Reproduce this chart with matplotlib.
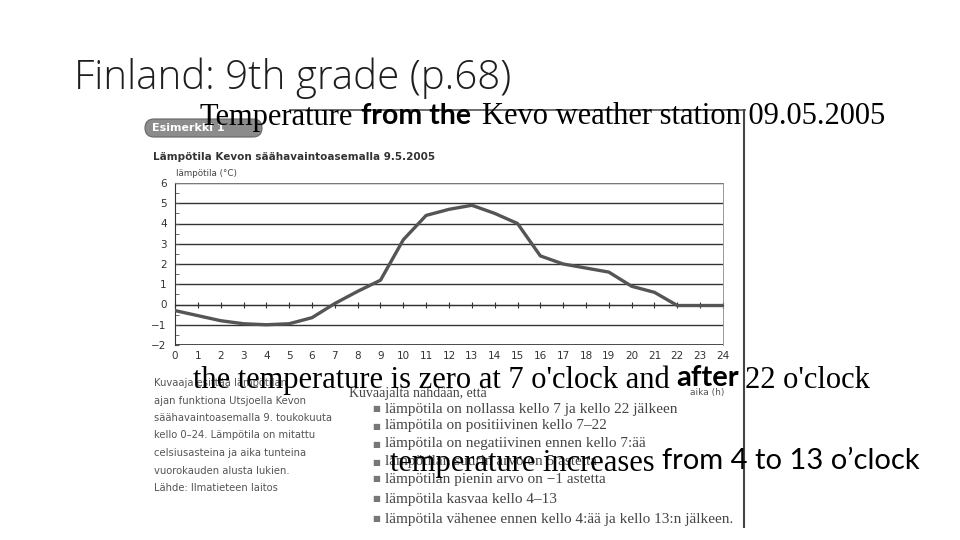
import matplotlib
matplotlib.use('Agg')
import matplotlib.pyplot as plt
from matplotlib.lines import Line2D
from matplotlib.patches import FancyBboxPatch

# hourly temperature at Kevo, 9.5.2005
hours = list(range(0, 25))
temps = [-0.3, -0.55, -0.8, -0.95, -1.0, -0.95, -0.65, 0.05, 0.65, 1.2,
         3.2, 4.4, 4.7, 4.9, 4.5, 4.0, 2.4, 2.0, 1.8, 1.6,
         0.9, 0.6, -0.05, -0.05, -0.05]
yticks = [-2, -1, 0, 1, 2, 3, 4, 5, 6]

caption_lines = ["Kuvaaja esittää lämpötilan",
                 "ajan funktiona Utsjoella Kevon",
                 "säähavaintoasemalla 9. toukokuuta",
                 "kello 0–24. Lämpötila on mitattu",
                 "celsiusasteina ja aika tunteina",
                 "vuorokauden alusta lukien.",
                 "Lähde: Ilmatieteen laitos"]
bullets = ["lämpötila on nollassa kello 7 ja kello 22 jälkeen",
           "lämpötila on positiivinen kello 7–22",
           "lämpötila on negatiivinen ennen kello 7:ää",
           "lämpötilan suurin arvo on 5 astetta",
           "lämpötilan pienin arvo on −1 astetta",
           "lämpötila kasvaa kello 4–13",
           "lämpötila vähenee ennen kello 4:ää ja kello 13:n jälkeen."]

W, H = 960, 540


def px(x, y):
    return x / W, 1 - y / H


fig = plt.figure(figsize=(9.6, 5.4), dpi=100)
fig.patch.set_facecolor('white')

# slide title
fig.text(*px(74, 78), 'Finland: 9th grade (p.68)', fontsize=29, family='Open Sans',
         fontweight='light', color='#1e1e1e', va='center', ha='left')

# frame of the scanned page
fig.add_artist(Line2D([290 / W, 745 / W], [1 - 110 / H, 1 - 110 / H], color='#555555', lw=1.2))
fig.add_artist(Line2D([744 / W, 744 / W], [1 - 110 / H, 1 - 527 / H], color='#444444', lw=1.5))

# "Esimerkki 1" badge (sizes in inches at 100 dpi)
fig.add_artist(FancyBboxPatch((1.45, (H - 137) / 100), 1.17, 0.18,
                              boxstyle='round,pad=0,rounding_size=0.09',
                              transform=fig.dpi_scale_trans, fc='#8c8c8c', ec='#666666', lw=0.8))
fig.text(*px(152, 128), 'Esimerkki 1', fontsize=8, fontweight='bold', color='white',
         family='DejaVu Sans', ha='left', va='center')

fig.text(*px(153, 157), 'Lämpötila Kevon säähavaintoasemalla 9.5.2005', fontsize=7.5,
         fontweight='bold', color='#333333', family='DejaVu Sans', va='center')
fig.text(*px(176, 173), 'lämpötila (°C)', fontsize=6.3, color='#444444',
         family='DejaVu Sans', va='center')

# the graph
ax = fig.add_axes([175 / W, 1 - 345 / H, (723 - 175) / W, (345 - 183) / H])
ax.plot(hours, temps, color='#555555', lw=2.4, solid_capstyle='round', zorder=3)
ax.set_xlim(0, 24)
ax.set_ylim(-2, 6)
ax.set_yticks(yticks)
ax.set_yticklabels([str(v).replace('-', '−') for v in yticks])
ax.set_yticks([v + 0.5 for v in yticks[:-1]], minor=True)
ax.grid(axis='y', color='#333333', lw=1.0)
ax.set_axisbelow(True)
for s in ['top', 'right']:
    ax.spines[s].set_color('#888888')
    ax.spines[s].set_linewidth(0.6)
ax.spines['left'].set_color('#333333')
ax.spines['bottom'].set_position(('data', 0))
ax.spines['bottom'].set_color('#333333')
ax.set_xticks(hours)
ax.tick_params(axis='x', direction='inout', length=5, labelbottom=False, color='#333333')
ax.tick_params(axis='y', which='both', direction='in', length=3, labelsize=7.5,
               labelcolor='#333333', color='#555555', pad=6)
ax.axhline(-2, color='#333333', lw=1.2)
secax = ax.secondary_xaxis(0)
secax.set_xticks(hours)
secax.tick_params(length=0, labelsize=7.5, labelcolor='#333333', pad=4)
secax.spines['bottom'].set_visible(False)
fig.text(*px(690, 392), 'aika (h)', fontsize=6.5, color='#555555', family='DejaVu Sans', va='center')

# Finnish caption on the left
for i, line in enumerate(caption_lines):
    fig.text(*px(154, 383 + i * 17.5), line, fontsize=7.2, color='#555555',
             family='DejaVu Sans', va='center')

# bullet list on the right
fig.text(*px(349, 393), 'Kuvaajalta nähdään, että', fontsize=10, color='#444444',
         family='Liberation Serif', va='center')
bullet_y = [409, 426, 444, 462, 479, 499, 519]
for yy, line in zip(bullet_y, bullets):
    fig.text(*px(372, yy), '■', fontsize=6, color='#777777', family='DejaVu Sans', va='center')
    fig.text(*px(385, yy), line, fontsize=11, color='#444444',
             family='Liberation Serif', va='center')

# English overlay text on the slide
fig.text(*px(200, 117), 'Temperature', fontsize=22, family='Liberation Serif', va='center')
fig.text(*px(361, 116), 'from the', fontsize=20.5, fontweight='bold', family='Lato', va='center')
fig.text(*px(482, 117), 'Kevo weather station 09.05.2005', fontsize=22,
         family='Liberation Serif', va='center')

fig.text(*px(193, 380), "the temperature is zero at 7 o'clock and", fontsize=22,
         family='Liberation Serif', va='center')
fig.text(*px(676, 378), 'after', fontsize=21, fontweight='bold', family='Lato', va='center')
fig.text(*px(745, 380), "22 o'clock", fontsize=22, family='Liberation Serif', va='center')

fig.text(*px(390, 463), 'temperature increases', fontsize=22, family='Liberation Serif',
         va='center')
fig.text(*px(662, 461), 'from 4 to 13 o’clock', fontsize=21, family='Lato', va='center')

fig.savefig('out.png', dpi=100)
